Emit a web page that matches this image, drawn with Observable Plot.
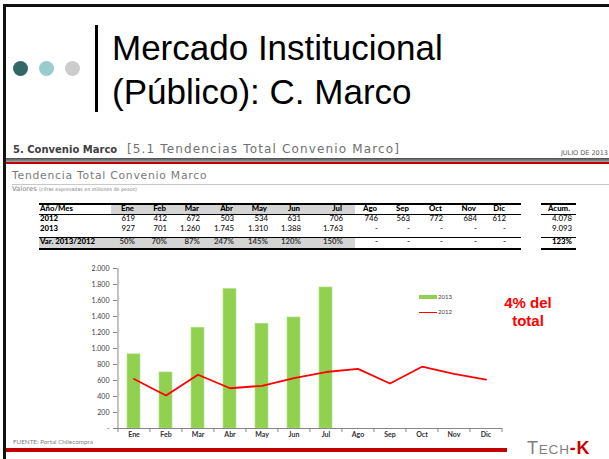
<!DOCTYPE html>
<html>
<head>
<meta charset="utf-8">
<script src="https://cdn.jsdelivr.net/npm/d3@7"></script>
<script src="https://cdn.jsdelivr.net/npm/@observablehq/plot@0.6"></script>
<style>
  html, body { margin: 0; padding: 0; background: #fff; }
  body { width: 609px; height: 459px; position: relative; overflow: hidden; font-family: "Liberation Sans", Arial, sans-serif; }
  .abs { position: absolute; white-space: nowrap; }
  #chart { position: absolute; left: 0; top: 255px; }
  #chart svg { display: block; }
</style>
</head>
<body>
<script>
// ---------- data ----------
const months = ["Ene","Feb","Mar","Abr","May","Jun","Jul","Ago","Sep","Oct","Nov","Dic"];
const sales2012 = [619, 412, 672, 503, 534, 631, 706, 746, 563, 772, 684, 612];
const sales2013 = [927, 701, 1260, 1745, 1310, 1388, 1763];
const variation = ["50%","70%","87%","247%","145%","120%","150%"];
const acum2012 = 4078;
const acum2013 = 9093;
const acumVar = "123%";
const yTicks = [0, 200, 400, 600, 800, 1000, 1200, 1400, 1600, 1800, 2000];
const seriesNames = ["2013", "2012"];

// ---------- helpers ----------
const loc = d3.formatLocale({decimal: ",", thousands: ".", grouping: [3], currency: ["$", ""]});
const fmt = loc.format(",d");
const body = document.body;
const ASC = {"Lato": 0.887, "Liberation Sans": 0.8465, "DejaVu Sans": 0.846};
function txt(s, o) {
  const d = document.createElement("div");
  d.className = "abs";
  d.textContent = s;
  const fam = o.font || "Lato";
  const fs = o.size;
  d.style.fontFamily = `"${fam}"`;
  d.style.fontSize = fs + "px";
  d.style.lineHeight = fs + "px";
  d.style.top = (o.base - ASC[fam] * fs) + "px";
  if (o.right != null) { d.style.right = (609 - o.right) + "px"; d.style.textAlign = "right"; }
  else if (o.center != null) { d.style.left = (o.center - 100) + "px"; d.style.width = "200px"; d.style.textAlign = "center"; }
  else d.style.left = o.left + "px";
  if (o.color) d.style.color = o.color;
  if (o.weight) d.style.fontWeight = o.weight;
  if (o.ls) d.style.letterSpacing = o.ls + "px";
  body.appendChild(d);
  return d;
}
function box(l, t, w, h, bg) {
  const d = document.createElement("div");
  d.className = "abs";
  Object.assign(d.style, {left: l + "px", top: t + "px", width: w + "px", height: h + "px", background: bg});
  body.appendChild(d);
  return d;
}

// ---------- slide frame ----------
box(3, 4, 606, 3, "#111");
box(3, 4, 3, 455, "#111");
const dot = (cx, c) => { const d = box(cx - 7.5, 60.5, 15, 15, c); d.style.borderRadius = "50%"; };
dot(20.7, "#336666"); dot(46.7, "#99cccc"); dot(72.7, "#cccccc");
box(94.5, 25, 3, 87, "#000");
txt("Mercado Institucional", {font: "Liberation Sans", size: 35, base: 60, left: 112, color: "#000"});
txt("(Público): C. Marco", {font: "Liberation Sans", size: 35, base: 104, left: 112, color: "#000"});

// ---------- report header ----------
const h1 = txt("", {font: "DejaVu Sans", size: 10, base: 153, left: 13});
h1.innerHTML = '<span style="font-weight:bold;color:#404040">5. Convenio Marco</span>';
txt("[5.1 Tendencias Total Convenio Marco]", {font: "DejaVu Sans", size: 12, base: 153.5, left: 127, color: "#707070", ls: 1.15});
txt("JULIO DE 2013", {font: "DejaVu Sans", size: 6.5, base: 155, right: 608, color: "#595959"});
box(6, 157.7, 603, 4, "linear-gradient(#4a4a4a, #a5a5a5)");
box(6, 162.3, 603, 1.8, "#c00000");
txt("Tendencia Total Convenio Marco", {font: "DejaVu Sans", size: 10.8, base: 180, left: 12, color: "#7a7a7a", ls: 0.75});
box(12, 183.5, 597, 1, "#c8c8c8");
const v = txt("", {font: "DejaVu Sans", size: 6.8, base: 192, left: 12, color: "#808080"});
v.innerHTML = 'Valores <span style="font-size:4.8px">(cifras expresadas en millones de pesos)</span>';

// ---------- table ----------
const colRight = [135, 167, 200, 234, 268, 301, 343, 378, 410, 443, 477, 506];
const acumRight = 572;
const rowBase = [211.6, 221.7, 231.7, 245.0];
// shading
box(111, 204.7, 244, 9, "#d4d4d4");
box(39, 237.6, 316, 10.7, "#d4d4d4");
// rules
box(39, 202.7, 482, 2, "#000"); box(541, 202.7, 35, 2, "#000");
box(39, 213.7, 482, 1, "#000"); box(541, 213.7, 35, 1, "#000");
box(39, 236.6, 482, 1, "#000"); box(541, 236.6, 35, 1, "#000");
box(39, 248.3, 482, 2, "#000"); box(541, 248.3, 35, 2, "#000");
const TF = 7.8;
txt("Año/Mes", {size: TF, base: rowBase[0], left: 40, weight: 900, color: "#000"});
txt("2012", {size: TF, base: rowBase[1], left: 40, weight: 900, color: "#000"});
txt("2013", {size: TF, base: rowBase[2], left: 40, weight: 900, color: "#000"});
txt("Var. 2013/2012", {size: TF, base: rowBase[3], left: 40, weight: 900, color: "#000"});
months.forEach((m, i) => {
  txt(m, {size: TF, base: rowBase[0], right: colRight[i] - 1, weight: 900, color: "#000"});
  txt(fmt(sales2012[i]), {size: TF, base: rowBase[1], right: colRight[i], color: "#111", weight: 500});
  const v13 = i < sales2013.length ? fmt(sales2013[i]) : "-";
  txt(v13, {size: TF, base: rowBase[2], right: colRight[i], color: "#111", weight: 500});
  const vv = i < variation.length ? variation[i] : "-";
  txt(vv, {size: TF, base: rowBase[3], right: colRight[i], color: "#3a3a3a", weight: 700});
});
txt("Acum.", {size: TF, base: rowBase[0], right: acumRight - 2, weight: 900, color: "#000"});
txt(fmt(acum2012), {size: TF, base: rowBase[1], right: acumRight, color: "#111", weight: 500});
txt(fmt(acum2013), {size: TF, base: rowBase[2], right: acumRight, color: "#111", weight: 500});
txt(acumVar, {size: TF, base: rowBase[3], right: acumRight, weight: 900, color: "#000"});

// ---------- chart ----------
const bars = sales2013.map((value, i) => ({month: months[i], value}));
const line = sales2012.map((value, i) => ({month: months[i], value}));
const x0 = 117, x1 = 502;
const step = (x1 - x0) / months.length;
const axisColor = "#868686";
const chart = Plot.plot({
  width: 609, height: 190,
  marginLeft: x0, marginRight: 609 - x1, marginTop: 13, marginBottom: 17,
  x: {domain: months, type: "band", paddingInner: 0.595, paddingOuter: 0.2975, axis: null},
  y: {domain: [0, 2000], axis: null},
  style: {fontFamily: "Lato", background: "transparent", overflow: "visible"},
  marks: [
    Plot.barY(bars, {x: "month", y: "value", fill: "#92d050", stroke: "#b6e08e", strokeWidth: 0.6}),
    Plot.lineY(line, {x: "month", y: "value", stroke: "#ff0000", strokeWidth: 1.8}),
    Plot.ruleY([0], {stroke: axisColor}),
    Plot.ruleX([months[0]], {y1: 0, y2: 2000, dx: -step / 2, stroke: axisColor}),
    Plot.axisY(yTicks, {tickSize: 4, tickPadding: 4, fontSize: 7, color: "#404040", stroke: axisColor,
      tickFormat: d => d === 0 ? "-" : fmt(d), label: null}),
    Plot.axisX(months, {tickSize: 4, dx: -step / 2, tickFormat: () => "", stroke: axisColor, label: null}),
    Plot.axisX([months[months.length - 1]], {tickSize: 4, dx: step / 2, tickFormat: () => "", stroke: axisColor, label: null}),
    Plot.axisX(months, {tickSize: 0, tickPadding: 4, fontSize: 7, fontWeight: "bold", color: "#303030", label: null})
  ]
});
const holder = document.createElement("div");
holder.id = "chart";
holder.appendChild(chart);
body.appendChild(holder);

// legend
box(419.3, 295.3, 17.4, 3.4, "#92d050");
txt(seriesNames[0], {size: 6, base: 299.2, left: 438, color: "#404040"});
box(419.3, 311.6, 17.4, 1.6, "#ff0000");
txt(seriesNames[1], {size: 6, base: 314.4, left: 438, color: "#404040"});

// annotation
txt("4% del", {font: "Liberation Sans", size: 15, base: 307.3, center: 528, weight: "bold", color: "#ff0000"});
txt("total", {font: "Liberation Sans", size: 15, base: 325.7, center: 528, weight: "bold", color: "#ff0000"});

// ---------- footer ----------
txt("FUENTE: Portal Chilecompra", {size: 6.3, base: 445, left: 13, color: "#808080"});
box(6, 447.7, 501, 4.6, "#c00000");
const logo = txt("", {font: "Liberation Sans", size: 18, base: 454.5, left: 527, ls: 0.8});
logo.innerHTML = '<span style="color:#7f7f7f">T<span style="font-size:13.5px">ECH</span></span><span style="color:#cc0000;font-weight:bold">-K</span>';
</script>
</body>
</html>
